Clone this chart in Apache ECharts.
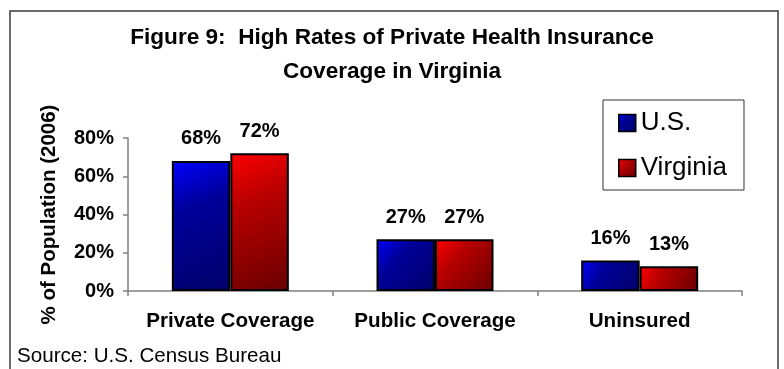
<!DOCTYPE html>
<html>
<head>
<meta charset="utf-8">
<script src="https://cdn.jsdelivr.net/npm/echarts@6/dist/echarts.min.js"></script>
<style>
  html, body { margin: 0; padding: 0; background: #fff; }
  #chart { width: 784px; height: 369px; }
</style>
</head>
<body>
<div id="chart"></div>
<script>
// Health insurance coverage, 2006
const categories = ['Private Coverage', 'Public Coverage', 'Uninsured'];
const usValues = [68, 27, 16];
const virginiaValues = [72, 27, 13];
const yTicks = { min: 0, max: 80, interval: 20 };

const FONT = '"Liberation Sans", Arial, sans-serif';

const blueFill = new echarts.graphic.LinearGradient(0, 0, 1, 1, [
  { offset: 0, color: '#0000ff' },
  { offset: 0.35, color: '#00009a' },
  { offset: 1, color: '#00006a' }
]);
const redFill = new echarts.graphic.LinearGradient(0, 0, 1, 1, [
  { offset: 0, color: '#ff0000' },
  { offset: 0.35, color: '#b80000' },
  { offset: 1, color: '#6a0000' }
]);

const barLabel = {
  show: true,
  position: 'top',
  distance: 12,
  formatter: '{c}%',
  fontFamily: FONT,
  fontWeight: 'bold',
  fontSize: 20,
  color: '#000'
};

const chart = echarts.init(document.getElementById('chart'), null, { renderer: 'canvas' });

chart.setOption({
  animation: false,
  backgroundColor: '#fff',
  title: {
    text: 'Figure 9:  High Rates of Private Health Insurance\nCoverage in Virginia',
    left: 'center',
    top: 16,
    textStyle: {
      fontFamily: FONT,
      fontWeight: 'bold',
      fontSize: 22.6,
      lineHeight: 34,
      color: '#000'
    }
  },
  legend: {
    orient: 'vertical',
    left: 603,
    top: 100,
    padding: [10, 17, 9, 15],
    itemGap: 19,
    itemWidth: 17,
    itemHeight: 17,
    itemStyle: { borderColor: '#000', borderWidth: 1.5 },
    icon: 'rect',
    borderColor: '#333',
    borderWidth: 1,
    textStyle: { fontFamily: FONT, fontSize: 26, lineHeight: 24, color: '#000' },
    data: ['U.S.', 'Virginia']
  },
  grid: { left: 128, right: 42, top: 138, bottom: 78 },
  xAxis: {
    type: 'category',
    data: categories,
    axisLine: { lineStyle: { color: '#808080', width: 1.5 } },
    axisTick: { show: true, length: 5, lineStyle: { color: '#808080', width: 1.5 } },
    axisLabel: {
      interval: 0,
      margin: 20,
      fontFamily: FONT,
      fontWeight: 'bold',
      fontSize: 20.6,
      color: '#000'
    }
  },
  yAxis: {
    type: 'value',
    min: yTicks.min,
    max: yTicks.max,
    interval: yTicks.interval,
    name: '% of Population (2006)',
    nameLocation: 'middle',
    nameRotate: 90,
    nameGap: 68,
    nameTextStyle: {
      fontFamily: FONT,
      fontWeight: 'bold',
      fontSize: 20.5,
      color: '#000'
    },
    splitLine: { show: false },
    axisLine: { show: true, lineStyle: { color: '#808080', width: 1.5 } },
    axisTick: { show: true, length: 5, lineStyle: { color: '#808080', width: 1.5 } },
    axisLabel: {
      margin: 14,
      formatter: '{value}%',
      fontFamily: FONT,
      fontWeight: 'bold',
      fontSize: 20,
      color: '#000'
    }
  },
  series: [
    {
      name: 'U.S.',
      type: 'bar',
      data: usValues,
      barWidth: 58.5,
      barGap: '0%',
      itemStyle: { color: blueFill, borderColor: '#000', borderWidth: 2 },
      label: barLabel
    },
    {
      name: 'Virginia',
      type: 'bar',
      data: virginiaValues,
      barWidth: 58.5,
      barGap: '0%',
      itemStyle: { color: redFill, borderColor: '#000', borderWidth: 2 },
      label: barLabel
    }
  ],
  graphic: [
    {
      type: 'rect',
      shape: { x: 10, y: 11, width: 768, height: 380 },
      style: { fill: null, stroke: '#3a3a3a', lineWidth: 1.5 },
      silent: true,
      z: 10
    },
    {
      type: 'text',
      left: 17,
      top: 346,
      style: {
        text: 'Source: U.S. Census Bureau',
        fontFamily: FONT,
        fontSize: 20.6,
        fill: '#000'
      }
    }
  ]
});
</script>
</body>
</html>
